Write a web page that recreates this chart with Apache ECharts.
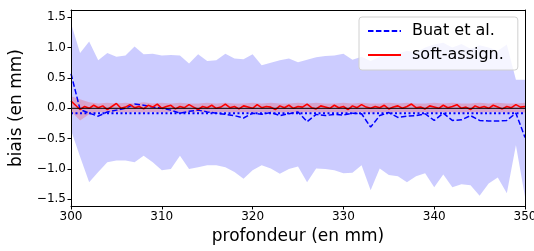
<!DOCTYPE html>
<html><head><meta charset="utf-8">
<script src="https://cdn.jsdelivr.net/npm/echarts@6/dist/echarts.min.js"></script>
<style>html,body{margin:0;padding:0;background:#fff}#c{width:534px;height:251px}</style>
</head><body><div id="c"></div>
<script>
// ---- data ----
const depths = [300,301,302,303,304,305,306,307,308,309,310,311,312,313,314,315,316,317,318,319,320,321,322,323,324,325,326,327,328,329,330,331,332,333,334,335,336,337,338,339,340,341,342,343,344,345,346,347,348,349,350];
const buatMean = [0.57,-0.02,-0.08,-0.13,-0.06,-0.03,0.00,0.07,0.05,0.02,0.00,-0.03,-0.08,-0.05,-0.03,-0.06,-0.08,-0.10,-0.12,-0.16,-0.08,-0.10,-0.07,-0.12,-0.09,-0.06,-0.22,-0.10,-0.12,-0.10,-0.11,-0.08,-0.09,-0.31,-0.12,-0.07,-0.15,-0.13,-0.12,-0.09,-0.20,-0.08,-0.20,-0.19,-0.12,-0.20,-0.21,-0.21,-0.20,-0.08,-0.48];
const buatUpper = [1.40,0.91,1.10,0.79,0.91,0.85,0.87,1.02,0.89,0.90,0.87,0.88,0.87,0.74,0.89,0.78,0.79,0.90,0.82,0.81,0.89,0.71,0.75,0.79,0.82,0.76,0.80,0.84,0.86,0.87,0.90,0.80,0.85,0.78,0.85,0.87,0.90,0.95,0.92,1.00,1.05,1.08,1.00,1.06,0.98,1.04,1.00,0.95,1.05,0.47,0.47];
const buatLower = [-0.36,-0.80,-1.22,-1.05,-0.89,-0.86,-0.86,-0.89,-0.78,-0.89,-1.02,-1.00,-0.78,-1.00,-0.97,-0.94,-0.94,-0.97,-1.05,-1.16,-1.02,-0.94,-0.99,-1.08,-1.00,-0.96,-1.22,-0.99,-1.00,-1.02,-1.07,-1.06,-0.94,-1.35,-0.99,-1.10,-1.12,-1.22,-1.12,-1.07,-1.30,-1.09,-1.30,-1.25,-1.27,-1.44,-1.24,-1.14,-1.40,-0.61,-1.46];
const softStart = 300, softStep = 0.5;
const softMean = [0.12,0.05,-0.02,0.03,0.00,0.05,0.01,0.04,-0.02,0.03,
 0.08,0.00,0.02,0.06,0.01,0.03,-0.01,0.05,0.02,0.07,
 0.00,0.03,0.05,-0.01,0.03,0.01,0.06,0.02,-0.02,0.03,
 0.01,0.05,0.00,0.02,0.07,0.01,0.03,-0.01,0.04,0.02,
 0.00,0.06,0.01,0.03,0.02,-0.02,0.04,0.01,0.05,0.00,
 0.03,0.02,0.07,0.01,-0.01,0.04,0.02,0.00,0.05,0.01,
 0.03,-0.02,0.04,0.01,0.06,0.02,0.00,0.03,0.01,0.05,
 -0.01,0.02,0.04,0.00,0.03,0.07,0.01,0.02,-0.01,0.04,
 0.02,0.00,0.05,0.01,0.03,0.06,0.00,0.02,-0.02,0.04,
 0.01,0.03,0.00,0.05,0.02,-0.01,0.03,0.01,0.06,0.02,0.03];
const softUpper = [0.20,0.15,0.10,0.08,0.09,0.08,0.09,0.08,0.10,0.08,0.09,0.08,0.09,0.08,0.08,0.09,0.08,0.09,0.08,0.08,0.09,0.08,0.09,0.08,0.08,0.09,0.08,0.09,0.08,0.08,0.09,0.08,0.09,0.08,0.08,0.09,0.08,0.09,0.08,0.08,0.09,0.08,0.09,0.08,0.08,0.09,0.08,0.09,0.08,0.08,0.09];
const softLower = [-0.05,-0.20,-0.10,-0.06,-0.07,-0.06,-0.07,-0.06,-0.07,-0.06,-0.07,-0.06,-0.06,-0.07,-0.06,-0.07,-0.06,-0.06,-0.07,-0.06,-0.07,-0.06,-0.06,-0.07,-0.06,-0.07,-0.06,-0.06,-0.07,-0.06,-0.07,-0.06,-0.06,-0.07,-0.06,-0.07,-0.06,-0.06,-0.07,-0.06,-0.07,-0.06,-0.06,-0.07,-0.06,-0.07,-0.06,-0.06,-0.07,-0.06,-0.07];
const zeroLevel = 0;
const buatOverall = -0.08;
const yTicks = [-1.5,-1.0,-0.5,0.0,0.5,1.0,1.5];
const xRange = [300, 350];
const yRange = [-1.61, 1.62];

// ---- build ----
const F = 'DejaVu Sans';
const pair = (xs, ys) => xs.map((x, i) => [x, ys[i]]);
const softX = softMean.map((_, i) => softStart + i * softStep);
const fmt = v => v.toFixed(1).replace('-', '\u2212');

function bandSeries(name, xs, up, lo, color, z) {
  return {
    name, type: 'custom', silent: true, z,
    data: [[xs[0], up[0]]],
    encode: { x: 0, y: 1 },
    renderItem: function (params, api) {
      const pts = [];
      for (let i = 0; i < xs.length; i++) pts.push(api.coord([xs[i], up[i]]));
      for (let i = xs.length - 1; i >= 0; i--) pts.push(api.coord([xs[i], lo[i]]));
      return { type: 'polygon', shape: { points: pts }, style: { fill: color, stroke: null } };
    }
  };
}

const option = {
  animation: false,
  grid: { left: 71, right: 9, top: 10, bottom: 45, containLabel: false, outerBoundsMode: 'none' },
  xAxis: [{
    type: 'value', min: xRange[0], max: xRange[1], interval: 10, z: 10,
    name: 'profondeur (en mm)', nameLocation: 'middle', nameGap: 22,
    nameTextStyle: { fontFamily: F, fontSize: 17, color: '#000' },
    axisLine: { show: true, onZero: false, lineStyle: { color: '#000', width: 1 } },
    axisTick: { show: true, length: 3.5, lineStyle: { color: '#000' } },
    axisLabel: { fontFamily: F, fontSize: 12, color: '#000', margin: 5, hideOverlap: false },
    splitLine: { show: false }
  }, {
    type: 'value', position: 'top', min: xRange[0], max: xRange[1], z: 10,
    axisLine: { show: true, onZero: false, lineStyle: { color: '#000', width: 1 } },
    axisTick: { show: false }, axisLabel: { show: false }, splitLine: { show: false }
  }],
  yAxis: [{
    type: 'value', min: yRange[0], max: yRange[1], z: 10,
    name: 'biais (en mm)', nameLocation: 'middle', nameGap: 46, nameRotate: 90,
    nameTextStyle: { fontFamily: F, fontSize: 17, color: '#000' },
    axisLine: { show: true, onZero: false, lineStyle: { color: '#000', width: 1 } },
    axisTick: { show: true, length: 3.5, lineStyle: { color: '#000' }, customValues: yTicks },
    axisLabel: { fontFamily: F, fontSize: 12, color: '#000', margin: 5, customValues: yTicks, formatter: fmt },
    splitLine: { show: false }
  }, {
    type: 'value', position: 'right', min: yRange[0], max: yRange[1], z: 10,
    axisLine: { show: true, onZero: false, lineStyle: { color: '#000', width: 1 } },
    axisTick: { show: false }, axisLabel: { show: false }, splitLine: { show: false }
  }],
  legend: {
    orient: 'vertical', left: 359, top: 17,
    data: ['Buat et al.', 'soft-assign.'],
    itemWidth: 33, itemHeight: 18, itemGap: 8,
    padding: [6, 14, 7, 8],
    itemStyle: { color: 'rgba(0,0,0,0)', borderWidth: 0, opacity: 0 },
    backgroundColor: 'rgba(255,255,255,0.8)',
    borderColor: '#d0d0d0', borderWidth: 1, borderRadius: 3,
    textStyle: { fontFamily: F, fontSize: 16, color: '#000', padding: [0, 0, 0, 6] }
  },
  series: [
    bandSeries('bandBuat', depths, buatUpper, buatLower, 'rgba(0,0,255,0.2)', 1),
    bandSeries('bandSoft', depths, softUpper, softLower, 'rgba(255,0,0,0.2)', 2),
    { name: 'Buat et al.', type: 'line', data: pair(depths, buatMean), symbol: 'none',
      itemStyle: { color: '#0000ff' },
      lineStyle: { color: '#0000ff', width: 1.5, type: [5.5, 2.4] }, z: 3 },
    { name: 'soft-assign.', type: 'line', data: pair(softX, softMean), symbol: 'none',
      itemStyle: { color: '#ff0000' },
      lineStyle: { color: '#ff0000', width: 1.6 }, z: 4 },
    { name: 'zero', type: 'line', data: [[xRange[0], zeroLevel], [xRange[1], zeroLevel]], symbol: 'none',
      lineStyle: { color: '#000', width: 1 }, z: 5 },
    { name: 'buatOverall', type: 'line', data: [[xRange[0], buatOverall], [xRange[1], buatOverall]], symbol: 'none',
      lineStyle: { color: '#0000ff', width: 2, type: [2, 2.5] }, z: 5 }
  ]
};
const chart = echarts.init(document.getElementById('c'), null, { renderer: 'canvas' });
chart.setOption(option);
</script></body></html>
